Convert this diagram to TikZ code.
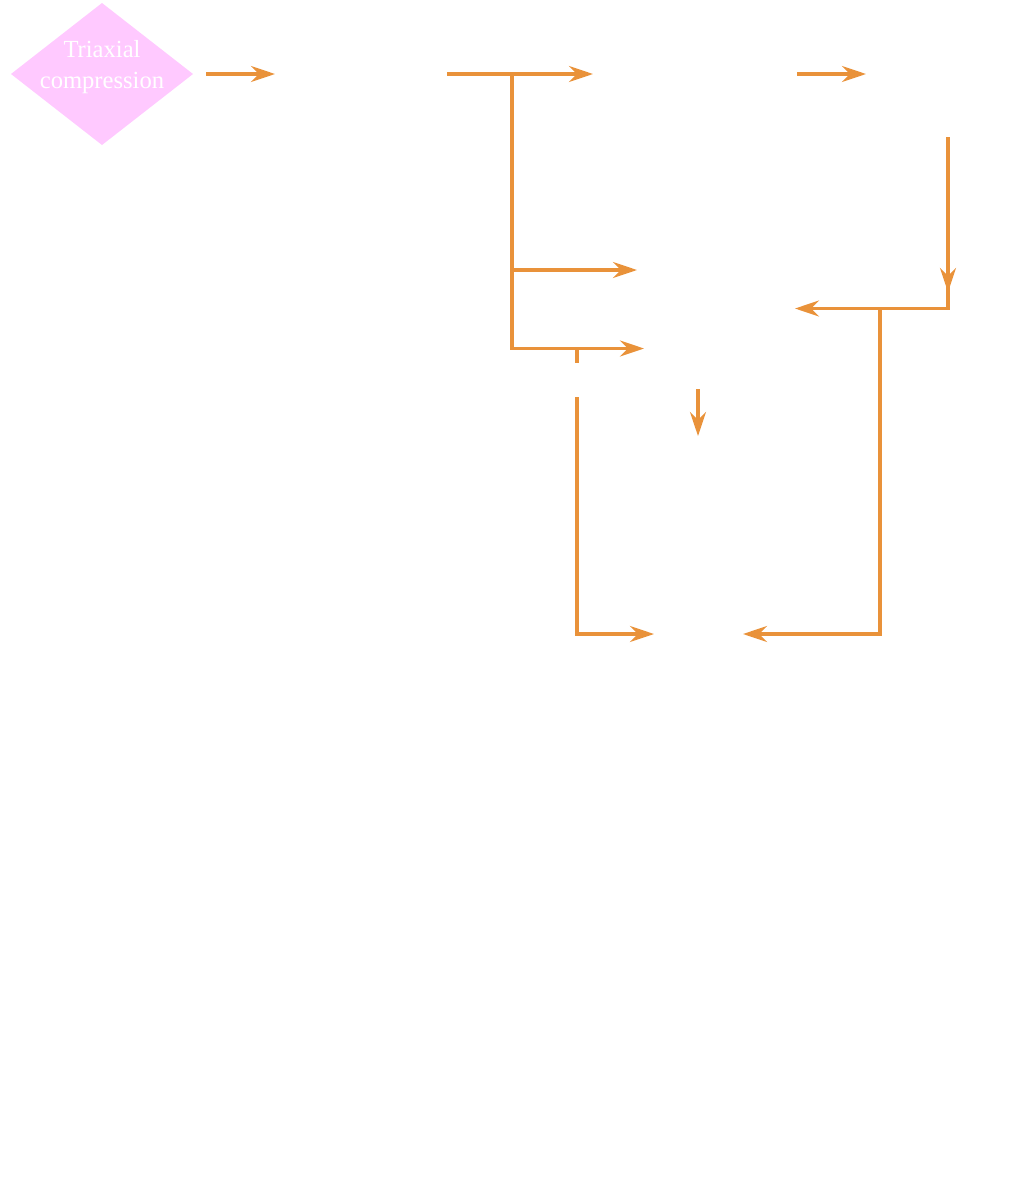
\documentclass[tikz,border=0pt]{standalone}
\usepackage{fontspec}
\setmainfont{Liberation Serif}
\usetikzlibrary{shapes.geometric,arrows.meta,calc}
\definecolor{flowline}{HTML}{E9923A}
\definecolor{startfill}{HTML}{FFC9FF}
\begin{document}
\begin{tikzpicture}[x=1pt,y=-1pt,
  flow/.style={draw=flowline, line width=3.1pt},
  arr/.style={flow, -{Stealth[length=24pt,width=16pt,inset=8pt]}},
  hidden/.style={draw=none, inner sep=0pt, outer sep=0pt},
  decision/.style={diamond, fill=startfill, inner sep=0pt, outer sep=0pt,
    minimum width=182pt, minimum height=142pt}]
\useasboundingbox (0,0) rectangle (1029,1181);

% start shape
\node[decision] (start) at (102,74) {};
\node[text=white, align=center, font=\fontsize{24.6}{31}\selectfont, inner sep=0pt]
  (startlbl) at (102,67) {Triaxial\\compression};

% blank steps
\node[hidden, minimum width=172pt, minimum height=60pt]  (n1) at (361,74) {};
\node[hidden, minimum width=204pt, minimum height=60pt]  (n2) at (695,74) {};
\node[hidden, minimum width=164pt, minimum height=126pt] (n3) at (948,74) {};
\node[hidden, minimum width=158pt, minimum height=40pt]  (n4) at (716,270) {};
\node[hidden, minimum width=151pt, minimum height=81pt]  (n5) at (719.5,348.5) {};
\node[hidden, minimum width=90pt,  minimum height=88pt]  (n6) at (698,480) {};
\node[hidden, minimum width=89pt,  minimum height=40pt]  (n7) at (698.5,634) {};
\node[hidden, minimum width=4pt,   minimum height=34pt]  (g)  at (577,380) {};

% junctions
\coordinate (fork1) at (512,74);
\coordinate (fork2) at (577,348);
\coordinate (in5)   at (795,308.5);
\coordinate (fork3) at (880,308.5);

% connectors
\draw[arr] ($(start.east)+(13,0)$) -- (n1.west);
\draw[arr] (n1.east) -- (n2.west);
\draw[arr] (n2.east) -- (n3.west);
\draw[arr] (fork1) |- (n4.west);
\draw[arr] (fork1) |- (n5.west);
\draw[flow] (fork2) -- (g.north);
\draw[arr] (g.south) |- (n7.west);
\draw[arr] (n3.south) -- ($(n3.south)+(0,155)$);
\draw[arr] (n3.south) |- (in5);
\draw[arr] (fork3) |- (n7.east);
\draw[arr] (n5.south -| n6.north) -- (n6.north);
\end{tikzpicture}
\end{document}
